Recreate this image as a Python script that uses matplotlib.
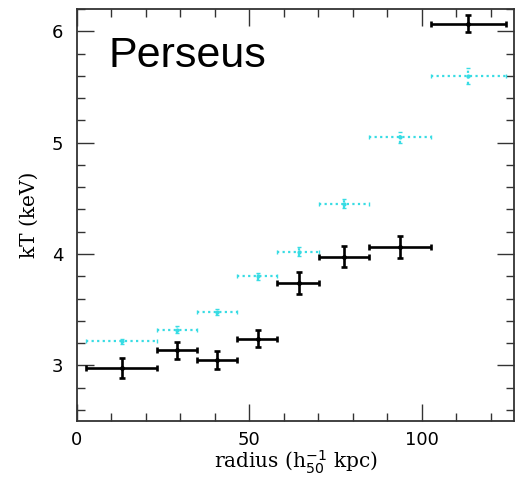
import matplotlib
matplotlib.use('Agg')
import matplotlib.pyplot as plt
from matplotlib.ticker import MultipleLocator

# bins (kpc): center, lower and upper edges
r_mid = [13.0, 29.0, 40.6, 52.4, 64.3, 77.5, 93.7, 113.4]
r_lo = [2.5, 23.3, 34.8, 46.3, 58.1, 70.3, 84.8, 102.7]
r_hi = [23.3, 34.8, 46.3, 58.1, 70.3, 84.8, 102.7, 124.4]

# black: projected temperature
kt_black = [2.98, 3.135, 3.045, 3.24, 3.74, 3.975, 4.065, 6.07]
kt_black_err = [0.09, 0.075, 0.08, 0.08, 0.095, 0.095, 0.1, 0.08]

# cyan: deprojected temperature
kt_cyan = [3.215, 3.32, 3.48, 3.80, 4.02, 4.45, 5.05, 5.60]
kt_cyan_err = [0.025, 0.03, 0.03, 0.03, 0.04, 0.04, 0.05, 0.07]

xerr = [[m - lo for m, lo in zip(r_mid, r_lo)], [hi - m for m, hi in zip(r_mid, r_hi)]]

fig = plt.figure(figsize=(5.15, 4.8), dpi=100)
ax = fig.add_axes([0.1495, 0.123, 0.849, 0.858])

eb = ax.errorbar(r_mid, kt_cyan, xerr=xerr, yerr=kt_cyan_err, fmt='o', ms=2,
                 color='#38dce4', ecolor='#38dce4', elinewidth=1.6, capsize=1.5)
for lc in eb[2]:
    lc.set_linestyle((0, (1, 1.5)))

ax.errorbar(r_mid, kt_black, xerr=xerr, yerr=kt_black_err, fmt='o', ms=2.5,
            color='black', ecolor='black', elinewidth=1.9, capsize=2, capthick=1.9)

ax.set_xlim(0, 126.8)
ax.set_ylim(2.5, 6.2)
ax.xaxis.set_major_locator(MultipleLocator(50))
ax.xaxis.set_minor_locator(MultipleLocator(10))
ax.yaxis.set_major_locator(MultipleLocator(1))
ax.yaxis.set_minor_locator(MultipleLocator(0.2))
ax.tick_params(which='both', direction='in', top=True, right=True, width=1, color='#333333')
ax.tick_params(which='major', length=12, labelsize=13, pad=10)
ax.tick_params(axis='x', which='major', pad=7)
ax.tick_params(which='minor', length=6)
for lab in ax.get_xticklabels() + ax.get_yticklabels():
    lab.set_family('DejaVu Sans')
for s in ax.spines.values():
    s.set_linewidth(1.3)
    s.set_color('#333333')

ax.set_xlabel('radius (h$_{50}^{-1}$ kpc)', family='DejaVu Serif', fontsize=14.5, labelpad=0)
ax.set_ylabel('kT (keV)', family='DejaVu Serif', fontsize=14.5, labelpad=9)

ax.text(0.072, 0.935, 'Perseus', transform=ax.transAxes, family='Liberation Sans',
        fontsize=31, va='top', ha='left')

fig.savefig('out.png', dpi=100)
